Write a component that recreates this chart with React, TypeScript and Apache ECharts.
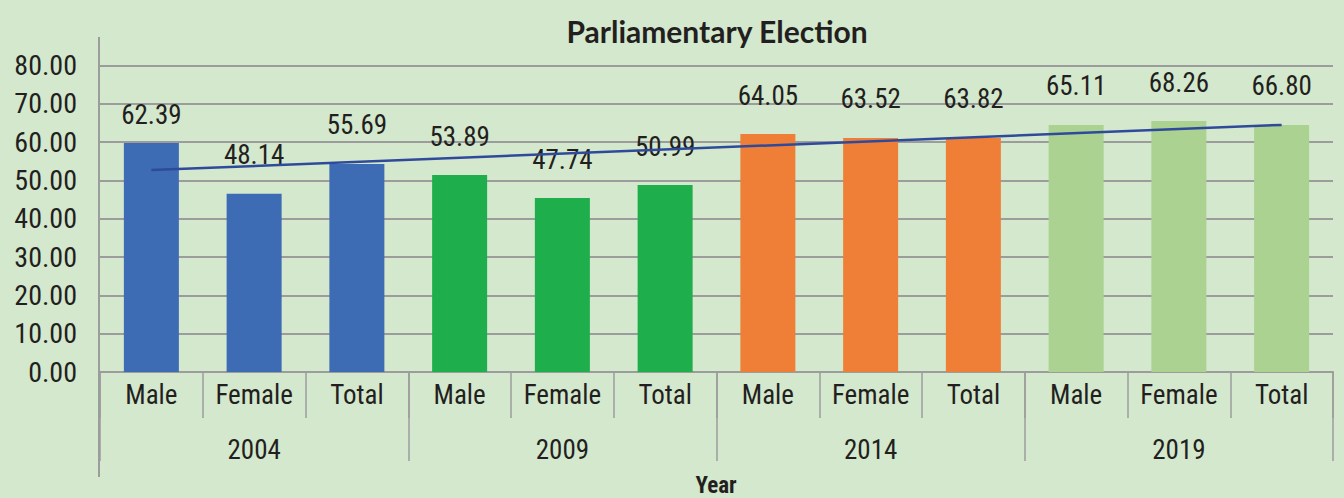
import React, { useEffect, useRef } from "react";
import * as echarts from "echarts";

const years = ["2004", "2009", "2014", "2019"];
const subCategories = ["Male", "Female", "Total"];
// bar heights as drawn in the reference
const barValues = [59.8, 46.5, 54.3, 51.4, 45.4, 48.8, 62.1, 61.1, 61.1, 64.5, 65.5, 64.5];
// printed data labels
const labelValues = ["62.39", "48.14", "55.69", "53.89", "47.74", "50.99", "64.05", "63.52", "63.82", "65.11", "68.26", "66.80"];
const yearColors = ["#3d6cb5", "#1fae4c", "#ef7f37", "#abd290"];
// linear trend line, read at first and last category
const trendStart = 52.7;
const trendEnd = 64.5;

const FONT = "'Liberation Sans Narrow', 'Roboto Condensed', 'DejaVu Sans Condensed', Roboto, sans-serif";
const TEXT = "#231f20";
const GRID = "#9c9c9c";

export default function App() {
  const ref = useRef<HTMLDivElement>(null);
  useEffect(() => {
    if (!ref.current) return;
    const chart = echarts.init(ref.current, null, { renderer: "svg" });
    const categories: string[] = [];
    const groupIndex: number[] = [];
    years.forEach((_, yi) => {
      subCategories.forEach((s) => {
        categories.push(s);
        groupIndex.push(yi);
      });
    });
    const last = categories.length - 1;
    const trendData = categories.map((_, i) => (i === 0 ? trendStart : i === last ? trendEnd : null));

    chart.setOption({
      animation: false,
      backgroundColor: "#d3e8cd",
      title: [
        {
          text: "Parliamentary Election",
          left: 712,
          top: 11,
          textAlign: "center",
          textStyle: { fontFamily: "Lato, 'Open Sans', sans-serif", fontWeight: "bold", fontSize: 30, color: TEXT },
        },
        {
          text: "Year",
          left: 716,
          top: 473,
          padding: 0,
          textAlign: "center",
          textStyle: { fontFamily: FONT, fontWeight: "bold", fontSize: 23, lineHeight: 24, color: TEXT },
        },
      ],
      grid: { left: 100, right: 11, top: 65.5, bottom: 126, containLabel: false },
      xAxis: [
        {
          type: "category",
          data: categories,
          position: "bottom",
          axisLine: { show: true, lineStyle: { color: GRID, width: 2 } },
          axisTick: { show: true, length: 46, interval: 0, lineStyle: { color: GRID, width: 1.5 } },
          axisLabel: { interval: 0, margin: 9, fontFamily: FONT, fontSize: 27, color: TEXT },
        },
        {
          type: "category",
          data: years,
          position: "bottom",
          axisLine: { show: false },
          axisTick: { show: true, length: 89, interval: 0, lineStyle: { color: GRID, width: 1.5 } },
          axisLabel: { interval: 0, margin: 64, fontFamily: FONT, fontSize: 27, color: TEXT },
        },
      ],
      yAxis: {
        type: "value",
        min: 0,
        max: 80,
        interval: 10,
        axisLine: { show: false },
        axisTick: { show: false },
        splitLine: { show: true, lineStyle: { color: GRID, width: 2 } },
        axisLabel: {
          margin: 23,
          fontFamily: FONT,
          fontSize: 28,
          color: TEXT,
          formatter: (v: number) => v.toFixed(2),
        },
      },
      graphic: [
        {
          type: "line",
          shape: { x1: 99, y1: 37, x2: 99, y2: 477 },
          style: { stroke: GRID, lineWidth: 2 },
          z: 10,
        },
      ],
      series: [
        {
          type: "bar",
          xAxisIndex: 0,
          barWidth: 55,
          data: barValues.map((v, i) => ({
            value: v,
            itemStyle: { color: yearColors[groupIndex[i]] },
            label: i === 0 ? { distance: 14 } : undefined,
          })),
          label: {
            show: true,
            position: "top",
            distance: 25,
            fontFamily: FONT,
            fontSize: 27,
            color: TEXT,
            formatter: (p: any) => labelValues[p.dataIndex],
          },
        },
        {
          type: "line",
          xAxisIndex: 0,
          data: trendData,
          connectNulls: true,
          symbol: "none",
          lineStyle: { color: "#2f4a9b", width: 2.5 },
          z: 5,
        },
      ],
    });
    return () => chart.dispose();
  }, []);
  return <div ref={ref} style={{ position: "fixed", left: 0, top: 0, width: 1344, height: 498 }} />;
}
